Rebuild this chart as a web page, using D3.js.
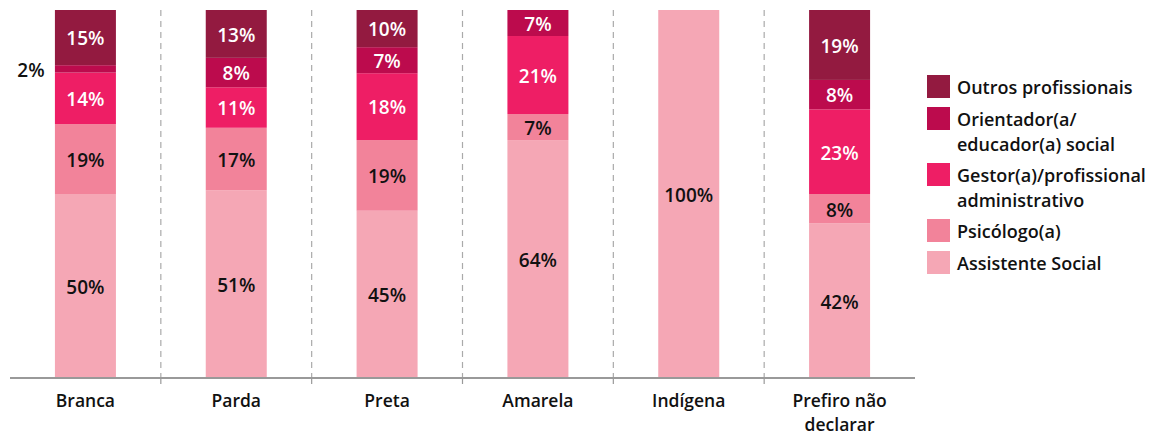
<!DOCTYPE html>
<html><head><meta charset="utf-8">
<script src="https://cdn.jsdelivr.net/npm/d3@7"></script>
<style>
html,body{margin:0;padding:0;background:#fff;}
text{font-family:"Open Sans","Noto Sans",sans-serif;}
</style></head>
<body><svg id="chart" width="1167" height="435"></svg>
<script>
const categories = ["Branca","Parda","Preta","Amarela","Indígena","Prefiro não declarar"];
const assistente = [50,51,45,64,100,42];
const psicologo  = [19,17,19,7,0,8];
const gestor     = [14,11,18,21,0,23];
const orientador = [2,8,7,7,0,8];
const outros     = [15,13,10,0,0,19];
const seriesKeys = ["assistente","psicologo","gestor","orientador","outros"];
const legendLines = {
  outros:["Outros profissionais"],
  orientador:["Orientador(a/","educador(a) social"],
  gestor:["Gestor(a)/profissional","administrativo"],
  psicologo:["Psicólogo(a)"],
  assistente:["Assistente Social"]
};
const colors = {assistente:"#F5A7B5",psicologo:"#F2839A",gestor:"#EE1E65",orientador:"#BC0B4D",outros:"#931A40"};
const darkText = {assistente:true,psicologo:true,gestor:false,orientador:false,outros:false};

(function(){
const table = categories.map((c,i)=>({cat:c,assistente:assistente[i],psicologo:psicologo[i],gestor:gestor[i],orientador:orientador[i],outros:outros[i]}));
const stack = d3.stack().keys(seriesKeys).offset(d3.stackOffsetExpand)(table);

const svg = d3.select("#chart");
const yTop = 10, yBot = 378, xL = 10, xR = 915;
const x = d3.scaleBand().domain(categories).range([xL,xR]).padding(0);
const y = d3.scaleLinear().domain([0,1]).range([yBot,yTop]);
const barW = 61;

const seps = categories.slice(1).map(c=>x(c));
svg.append("g").selectAll("line").data(seps).join("line")
  .attr("x1",d=>d).attr("x2",d=>d).attr("y1",yTop).attr("y2",yBot)
  .attr("stroke","#aaa").attr("stroke-width",1.2).attr("stroke-dasharray","6,5");

const g = svg.append("g");
stack.forEach(s=>{
  const key = s.key;
  g.append("g").selectAll("rect").data(s).join("rect")
    .attr("x",d=>x(d.data.cat)+x.bandwidth()/2-barW/2)
    .attr("width",barW)
    .attr("y",d=>y(d[1]))
    .attr("height",d=>Math.max(0,y(d[0])-y(d[1])))
    .attr("fill",colors[key]);
});
stack.forEach(s=>{
  const key = s.key;
  s.forEach(d=>{
    const v = d.data[key];
    if(!v) return;
    const h = y(d[0])-y(d[1]);
    const cx = x(d.data.cat)+x.bandwidth()/2;
    const cy = (y(d[0])+y(d[1]))/2;
    const small = h < 14;
    svg.append("text")
      .attr("x", small ? cx-barW/2-24 : cx)
      .attr("y", cy+1)
      .attr("dy","0.36em")
      .attr("text-anchor","middle")
      .attr("font-size",19).attr("font-weight",600)
      .attr("fill", small ? "#111" : (darkText[key] ? "#111" : "#fff"))
      .text(v+"%");
  });
});

const axis = svg.append("g");
axis.append("line").attr("x1",xL).attr("x2",xR).attr("y1",yBot).attr("y2",yBot)
  .attr("stroke","#999").attr("stroke-width",2);
axis.selectAll("line.tick").data(seps).join("line").attr("class","tick")
  .attr("x1",d=>d).attr("x2",d=>d).attr("y1",yBot).attr("y2",yBot+6)
  .attr("stroke","#999").attr("stroke-width",1.2);
categories.forEach(c=>{
  const words = c==="Prefiro não declarar" ? ["Prefiro não","declarar"] : [c];
  words.forEach((w,i)=>axis.append("text").attr("x",x(c)+x.bandwidth()/2).attr("y",407+i*24)
    .attr("text-anchor","middle").attr("font-size",17.5).attr("font-weight",600).attr("fill","#111").text(w));
});

const legOrder = ["outros","orientador","gestor","psicologo","assistente"];
const legY = {outros:75,orientador:107,gestor:163,psicologo:219,assistente:251};
const leg = svg.append("g");
legOrder.forEach(k=>{
  leg.append("rect").attr("x",927).attr("y",legY[k]).attr("width",23).attr("height",23).attr("fill",colors[k]);
  legendLines[k].forEach((l,i)=>leg.append("text").attr("x",957).attr("y",legY[k]+19+i*25)
    .attr("font-size",18).attr("font-weight",600).attr("fill","#111").text(l));
});
})();
</script></body></html>
